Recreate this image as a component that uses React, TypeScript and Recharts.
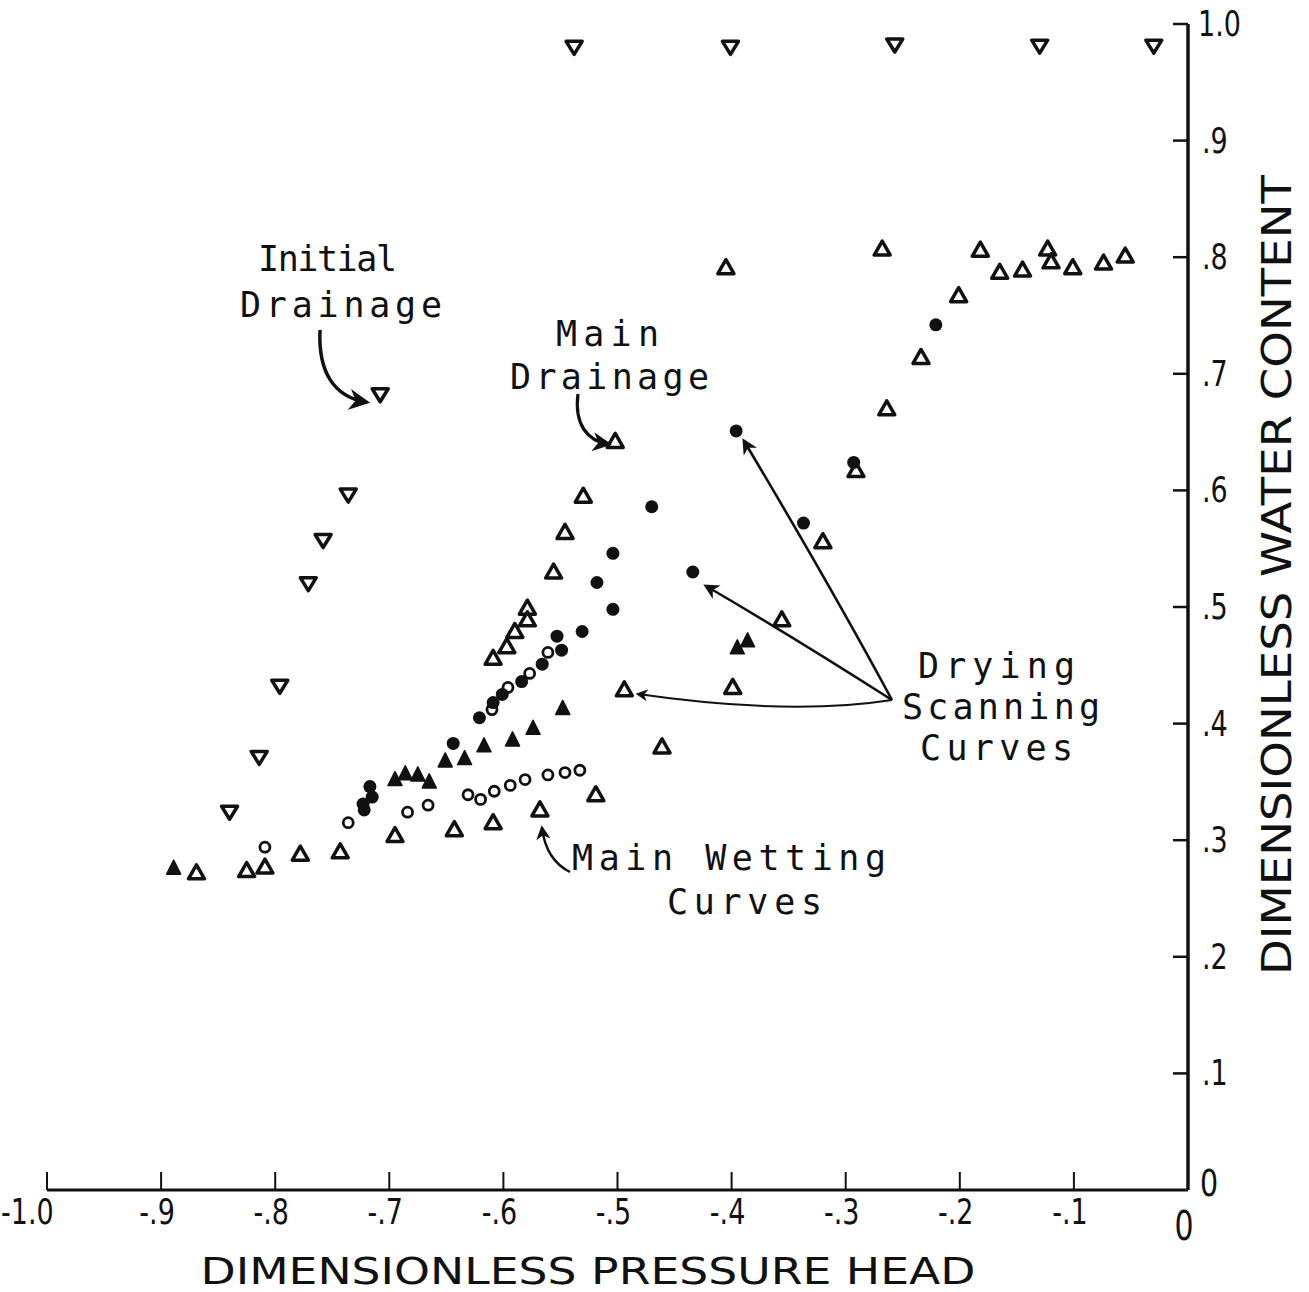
import { ScatterChart, Scatter, XAxis, YAxis } from 'recharts'

// tick values and their hand-lettered labels
const xTicks = [-1, -0.9, -0.8, -0.7, -0.6, -0.5, -0.4, -0.3, -0.2, -0.1, 0]
const xTickLabels = ['-1.0', '-.9', '-.8', '-.7', '-.6', '-.5', '-.4', '-.3', '-.2', '-.1', '0']
const yTicks = [0, 0.1, 0.2, 0.3, 0.4, 0.5, 0.6, 0.7, 0.8, 0.9, 1]
const yTickLabels = ['0', '.1', '.2', '.3', '.4', '.5', '.6', '.7', '.8', '.9', '1.0']

// inverted open triangles
const initialDrainage = [
  { x: -0.84, y: 0.324 }, { x: -0.814, y: 0.371 }, { x: -0.796, y: 0.432 },
  { x: -0.771, y: 0.52 }, { x: -0.758, y: 0.557 }, { x: -0.736, y: 0.596 },
  { x: -0.708, y: 0.682 }, { x: -0.538, y: 0.98 }, { x: -0.401, y: 0.98 },
  { x: -0.257, y: 0.982 }, { x: -0.13, y: 0.981 }, { x: -0.03, y: 0.981 },
]

// open triangles, upper branch
const mainDrainage = [
  { x: -0.609, y: 0.456 }, { x: -0.597, y: 0.466 }, { x: -0.59, y: 0.479 },
  { x: -0.579, y: 0.489 }, { x: -0.579, y: 0.499 }, { x: -0.556, y: 0.53 },
  { x: -0.546, y: 0.564 }, { x: -0.53, y: 0.595 }, { x: -0.502, y: 0.642 },
]

// open triangles, wetting branch
const mainWetting = [
  { x: -0.869, y: 0.272 }, { x: -0.825, y: 0.274 }, { x: -0.809, y: 0.277 },
  { x: -0.778, y: 0.288 }, { x: -0.743, y: 0.29 }, { x: -0.695, y: 0.304 },
  { x: -0.643, y: 0.309 }, { x: -0.609, y: 0.315 }, { x: -0.568, y: 0.326 },
  { x: -0.519, y: 0.339 }, { x: -0.461, y: 0.38 }, { x: -0.494, y: 0.429 },
  { x: -0.399, y: 0.431 }, { x: -0.356, y: 0.489 }, { x: -0.32, y: 0.556 },
  { x: -0.291, y: 0.617 }, { x: -0.264, y: 0.67 }, { x: -0.234, y: 0.714 },
  { x: -0.201, y: 0.767 }, { x: -0.182, y: 0.806 }, { x: -0.165, y: 0.787 },
  { x: -0.145, y: 0.789 }, { x: -0.123, y: 0.807 }, { x: -0.12, y: 0.796 },
  { x: -0.101, y: 0.791 }, { x: -0.074, y: 0.795 }, { x: -0.055, y: 0.801 },
  { x: -0.268, y: 0.807 }, { x: -0.405, y: 0.791 },
]

const dryingCircles = [
  { x: -0.396, y: 0.651 }, { x: -0.337, y: 0.572 }, { x: -0.293, y: 0.624 },
  { x: -0.221, y: 0.742 }, { x: -0.434, y: 0.53 }, { x: -0.47, y: 0.586 },
  { x: -0.504, y: 0.546 }, { x: -0.518, y: 0.521 }, { x: -0.504, y: 0.498 },
  { x: -0.531, y: 0.479 }, { x: -0.553, y: 0.475 }, { x: -0.549, y: 0.463 },
  { x: -0.566, y: 0.451 }, { x: -0.584, y: 0.436 }, { x: -0.601, y: 0.425 },
  { x: -0.609, y: 0.418 }, { x: -0.621, y: 0.405 }, { x: -0.644, y: 0.383 },
  { x: -0.717, y: 0.346 }, { x: -0.715, y: 0.337 }, { x: -0.723, y: 0.331 },
  { x: -0.722, y: 0.326 },
]

const wettingCircles = [
  { x: -0.809, y: 0.294 }, { x: -0.736, y: 0.315 }, { x: -0.684, y: 0.324 },
  { x: -0.666, y: 0.33 }, { x: -0.631, y: 0.339 }, { x: -0.62, y: 0.335 },
  { x: -0.608, y: 0.342 }, { x: -0.594, y: 0.347 }, { x: -0.581, y: 0.352 },
  { x: -0.561, y: 0.356 }, { x: -0.546, y: 0.358 }, { x: -0.533, y: 0.36 },
  { x: -0.561, y: 0.461 }, { x: -0.577, y: 0.443 }, { x: -0.596, y: 0.431 },
  { x: -0.61, y: 0.412 },
]

const filledTriangles = [
  { x: -0.889, y: 0.276 }, { x: -0.695, y: 0.352 }, { x: -0.686, y: 0.357 },
  { x: -0.675, y: 0.356 }, { x: -0.665, y: 0.35 }, { x: -0.651, y: 0.368 },
  { x: -0.634, y: 0.37 }, { x: -0.617, y: 0.381 }, { x: -0.592, y: 0.386 },
  { x: -0.574, y: 0.396 }, { x: -0.548, y: 0.413 }, { x: -0.386, y: 0.471 },
  { x: -0.395, y: 0.465 },
]

const INK = '#111'
const labelFont = "'DejaVu Sans Mono', monospace"
const tickFont = "'DejaVu Sans', sans-serif"

const DownTri = ({ cx, cy }: any) => (
  <polygon points={`${cx - 8},${cy - 6} ${cx + 8},${cy - 6} ${cx},${cy + 7}`}
    fill="none" stroke={INK} strokeWidth={3.5} strokeLinejoin="round" />
)
const UpTri = ({ cx, cy }: any) => (
  <polygon points={`${cx},${cy - 8} ${cx - 8},${cy + 6} ${cx + 8},${cy + 6}`}
    fill="none" stroke={INK} strokeWidth={3.5} strokeLinejoin="round" />
)
const SolidTri = ({ cx, cy }: any) => (
  <polygon points={`${cx},${cy - 8} ${cx - 7},${cy + 6} ${cx + 7},${cy + 6}`}
    fill={INK} stroke={INK} strokeWidth={1.5} strokeLinejoin="round" />
)
const Dot = ({ cx, cy }: any) => <circle cx={cx} cy={cy} r={6.5} fill={INK} />
const Ring = ({ cx, cy }: any) => (
  <circle cx={cx} cy={cy} r={5} fill="none" stroke={INK} strokeWidth={2.8} />
)

// narrow, tall numerals like the hand lettering
function Narrow({ x, y, anchor, size, children }: any) {
  return (
    <text transform={`translate(${x},${y}) scale(0.75 1)`} textAnchor={anchor}
      fontFamily={tickFont} fontSize={size} fill={INK}>{children}</text>
  )
}

function XTick({ x, y, payload }: any) {
  const i = xTicks.indexOf(payload.value)
  const label = xTickLabels[i]
  if (payload.value === -1) {
    return (
      <g>
        <line x1={x} x2={x} y1={y} y2={y - 18} stroke={INK} strokeWidth={2} />
        <Narrow x={1} y={y + 34} anchor="start" size={36}>{label}</Narrow>
      </g>
    )
  }
  const isZero = payload.value === 0
  return (
    <g>
      {!isZero && <line x1={x} x2={x} y1={y} y2={y - 18} stroke={INK} strokeWidth={2} />}
      <Narrow x={x + (isZero ? -4 : -4)} y={y + (isZero ? 50 : 34)} anchor="middle"
        size={isZero ? 40 : 36}>{label}</Narrow>
    </g>
  )
}

function YTick({ x, y, payload }: any) {
  const i = yTicks.indexOf(payload.value)
  const label = yTickLabels[i]
  const isZero = payload.value === 0
  return (
    <g>
      {!isZero && <line x1={x} x2={x - 15} y1={y} y2={y} stroke={INK} strokeWidth={2.5} />}
      <Narrow x={x + (isZero ? 12 : payload.value === 1 ? 10 : 14)} y={y + (isZero ? 6 : 12)}
        anchor="start" size={isZero ? 38 : 36}>{label}</Narrow>
    </g>
  )
}

function Annotations() {
  const txt = { fontFamily: labelFont, fontSize: 35, fill: INK } as const
  return (
    <svg width={1309} height={1292}
      style={{ position: 'absolute', left: 0, top: 0, pointerEvents: 'none' }}>
      <defs>
        <marker id="head" viewBox="0 0 10 10" refX="8" refY="5" markerWidth="6" markerHeight="6"
          orient="auto-start-reverse">
          <path d="M0,0 L10,5 L0,10 L3,5 Z" fill={INK} />
        </marker>
      </defs>

      <text x={258} y={271} textLength={139} lengthAdjust="spacing" {...txt}>Initial</text>
      <text x={240} y={317} textLength={202} lengthAdjust="spacing" {...txt}>Drainage</text>
      <path d="M320 330 C318 372 334 397 366 402" fill="none" stroke={INK} strokeWidth={3.5}
        markerEnd="url(#head)" />

      <text x={556} y={346} textLength={103} lengthAdjust="spacing" {...txt}>Main</text>
      <text x={510} y={389} textLength={199} lengthAdjust="spacing" {...txt}>Drainage</text>
      <path d="M578 394 C574 425 588 441 608 444" fill="none" stroke={INK} strokeWidth={3.2}
        markerEnd="url(#head)" />

      <text x={918} y={678} textLength={157} lengthAdjust="spacing" {...txt}>Drying</text>
      <text x={902} y={719} textLength={198} lengthAdjust="spacing" {...txt}>Scanning</text>
      <text x={920} y={760} textLength={153} lengthAdjust="spacing" {...txt}>Curves</text>
      <path d="M892 700 Q830 585 744 441" fill="none" stroke={INK} strokeWidth={2.6}
        markerEnd="url(#head)" />
      <path d="M892 700 Q790 635 706 586" fill="none" stroke={INK} strokeWidth={2.6}
        markerEnd="url(#head)" />
      <path d="M892 700 Q790 716 638 694" fill="none" stroke={INK} strokeWidth={2}
        markerEnd="url(#head)" />

      <text x={572} y={870} textLength={314} lengthAdjust="spacing" {...txt}>Main Wetting</text>
      <text x={667} y={914} textLength={155} lengthAdjust="spacing" {...txt}>Curves</text>
      <path d="M570 872 Q546 860 542 828" fill="none" stroke={INK} strokeWidth={2.4}
        markerEnd="url(#head)" />

      <text x={588} y={1284} textAnchor="middle" textLength={775} lengthAdjust="spacingAndGlyphs"
        fontFamily={tickFont} fontSize={38} fill={INK}>DIMENSIONLESS PRESSURE HEAD</text>
      <text x={1291} y={575} textAnchor="middle" textLength={800} lengthAdjust="spacingAndGlyphs"
        transform="rotate(-90 1291 575)" fontFamily={tickFont} fontSize={40} fill={INK}>
        DIMENSIONLESS WATER CONTENT
      </text>
    </svg>
  )
}

export default function App() {
  return (
    <div style={{ position: 'absolute', left: 0, top: 0, width: 1309, height: 1292, background: '#fff' }}>
      <ScatterChart width={1309} height={1292} margin={{ top: 24, left: 47, right: 61, bottom: 72 }}>
        <XAxis type="number" dataKey="x" domain={[-1, 0]} ticks={xTicks} interval={0}
          height={30} tickSize={0} tickMargin={0} tickLine={false}
          axisLine={{ stroke: INK, strokeWidth: 3 }} tick={<XTick />} />
        <YAxis type="number" dataKey="y" domain={[0, 1]} ticks={yTicks} interval={0}
          orientation="right" width={60} tickSize={0} tickMargin={0} tickLine={false}
          axisLine={{ stroke: INK, strokeWidth: 3.5 }} tick={<YTick />} />
        <Scatter data={initialDrainage} shape={DownTri} isAnimationActive={false} />
        <Scatter data={mainDrainage} shape={UpTri} isAnimationActive={false} />
        <Scatter data={mainWetting} shape={UpTri} isAnimationActive={false} />
        <Scatter data={wettingCircles} shape={Ring} isAnimationActive={false} />
        <Scatter data={dryingCircles} shape={Dot} isAnimationActive={false} />
        <Scatter data={filledTriangles} shape={SolidTri} isAnimationActive={false} />
      </ScatterChart>
      <Annotations />
    </div>
  )
}
